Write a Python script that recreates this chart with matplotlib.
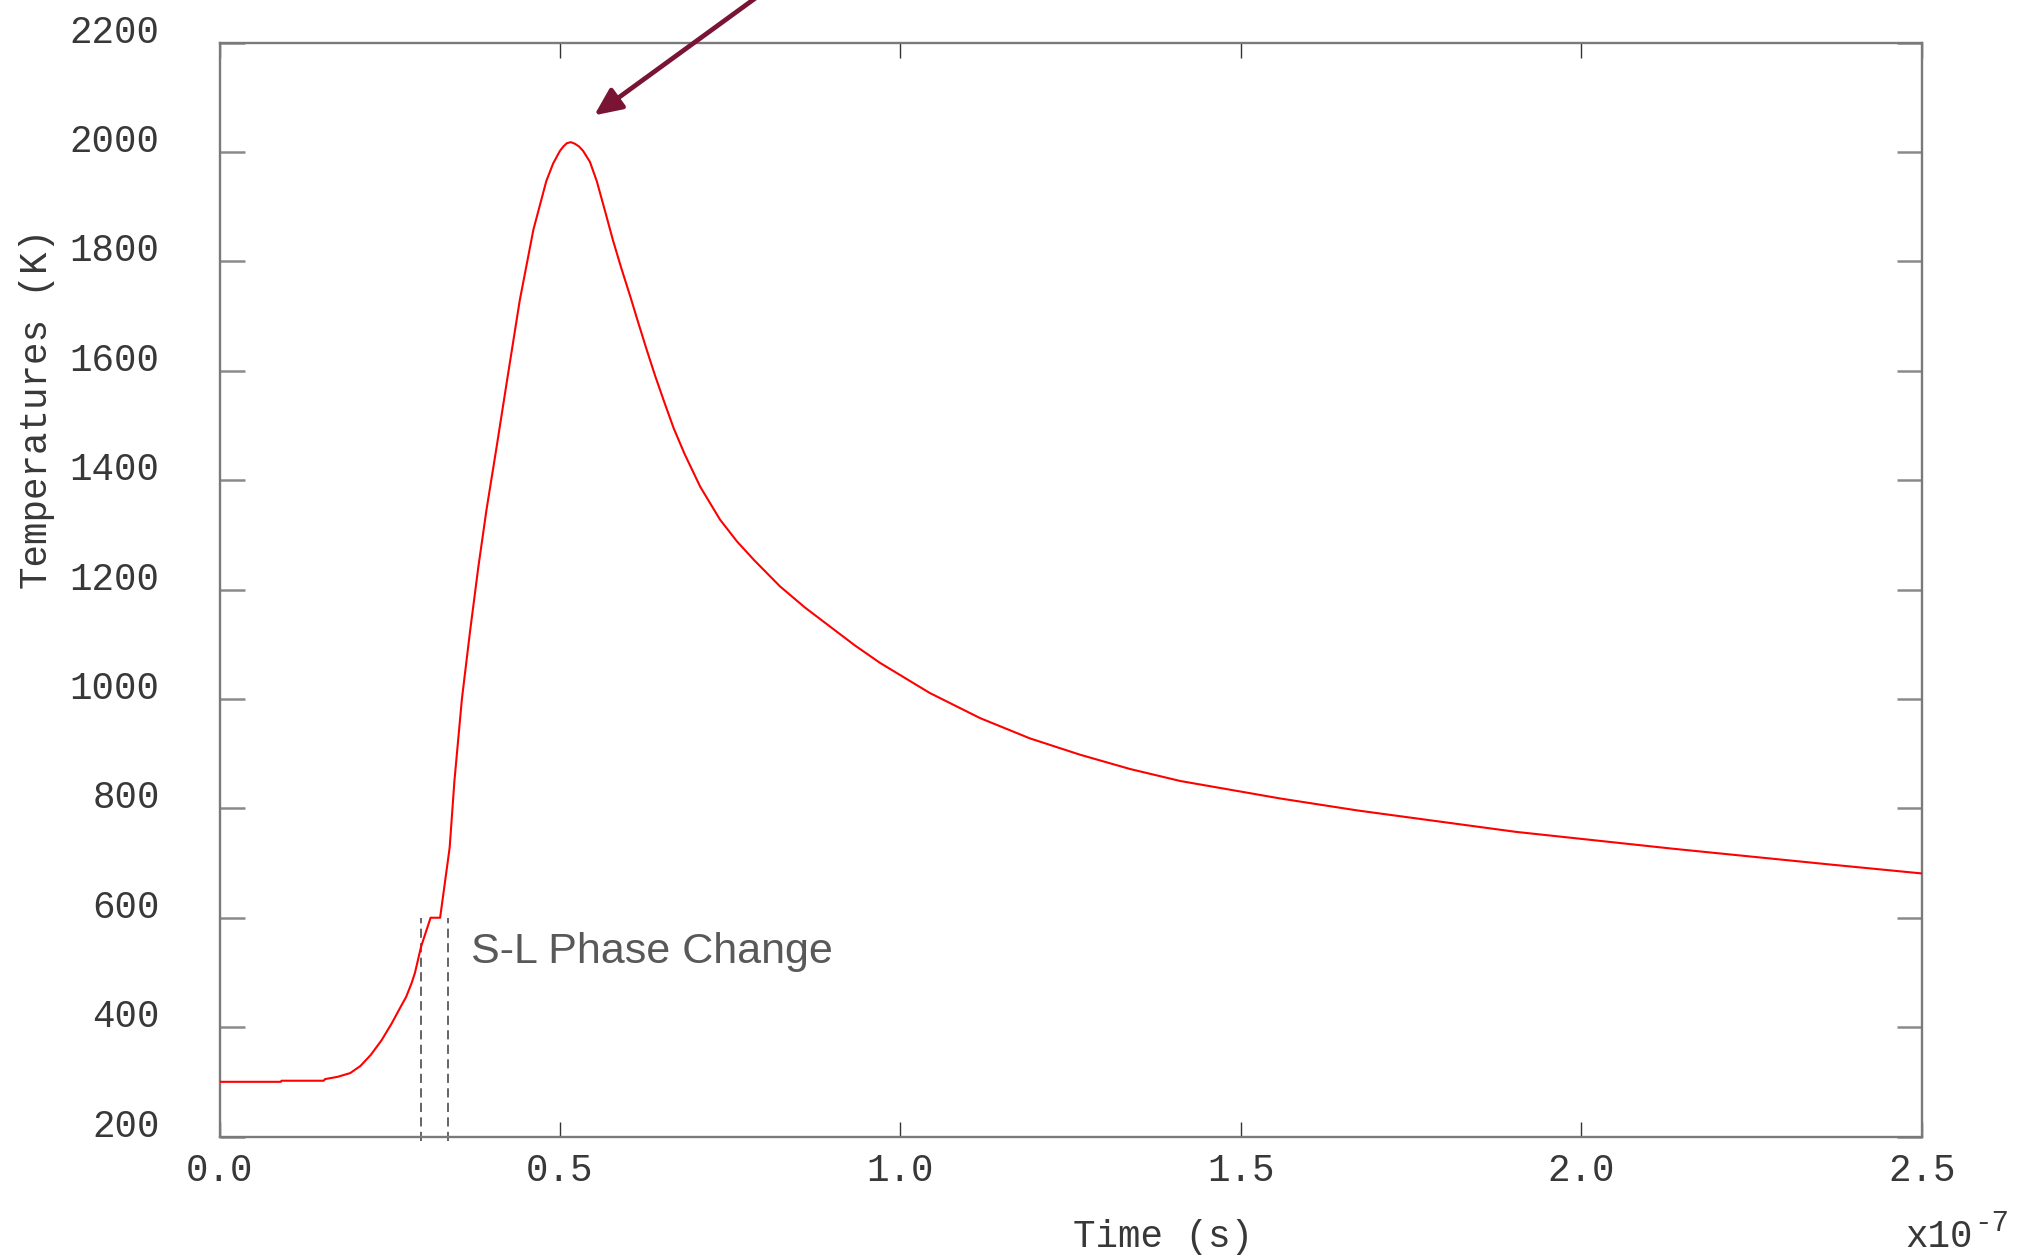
import matplotlib
matplotlib.use("Agg")
import matplotlib.pyplot as plt
from matplotlib.transforms import blended_transform_factory

# Surface temperature history (time in units of 1e-7 s, temperature in K)
time_e7 = [0.000, 0.090, 0.091, 0.153, 0.155, 0.173, 0.192, 0.207, 0.222, 0.238,
           0.253, 0.266, 0.274, 0.282, 0.287, 0.296, 0.310, 0.324, 0.338, 0.345,
           0.356, 0.368, 0.380, 0.392, 0.407, 0.422, 0.441, 0.461, 0.480, 0.490,
           0.500, 0.505, 0.510, 0.516, 0.522, 0.528, 0.534, 0.544, 0.554, 0.566,
           0.578, 0.590, 0.603, 0.615, 0.627, 0.640, 0.654, 0.667, 0.683, 0.706,
           0.735, 0.760, 0.785, 0.823, 0.860, 0.897, 0.933, 0.970, 1.043, 1.117,
           1.190, 1.264, 1.337, 1.411, 1.558, 1.672, 1.904, 2.136, 2.368, 2.500]
temperature = [300, 300, 302, 302, 305, 309, 316, 329, 349, 376,
               407, 437, 455, 480, 499, 547, 600, 600, 728, 850,
               1000, 1124, 1240, 1345, 1461, 1580, 1729, 1858, 1947, 1979,
               2002, 2010, 2016, 2018, 2015, 2010, 2002, 1982, 1947, 1893,
               1838, 1788, 1737, 1688, 1640, 1590, 1540, 1495, 1448, 1388,
               1328, 1288, 1254, 1206, 1167, 1132, 1098, 1066, 1011, 965,
               928, 898, 872, 850, 818, 796, 757, 726, 697, 681]

# Solid-liquid phase change window
phase_bounds = [0.296, 0.3355]
phase_span_T = [192, 600]

# Peak marker arrow (tip, tail) in data units
arrow_tip = (0.5504, 2067)
arrow_tail = (0.853, 2341)

x_ticks = [0.0, 0.5, 1.0, 1.5, 2.0, 2.5]
y_ticks = [200, 400, 600, 800, 1000, 1200, 1400, 1600, 1800, 2000, 2200]

MONO = "Liberation Mono"
SANS = "Liberation Sans"
TXT = "#383838"

fig = plt.figure(figsize=(20.25, 12.6), dpi=100)
ax = fig.add_axes([0.1084, 0.098, 0.9490 - 0.1084, 0.9662 - 0.098])

ax.plot(time_e7, temperature, color="#ff0000", lw=1.5, zorder=3,
        solid_joinstyle="round")

for xb in phase_bounds:
    ax.plot([xb, xb], phase_span_T, color="#3a3a3a", lw=1.1,
            dashes=(6, 3.5), clip_on=False, zorder=2)

ax.text(0.369, 518, "S-L Phase Change", family=SANS, fontsize=31,
        color="#595959", ha="left", va="baseline")

ax.annotate("", xy=arrow_tip, xytext=arrow_tail, xycoords="data",
            textcoords="data", annotation_clip=False,
            arrowprops=dict(arrowstyle="-|>,head_length=0.55,head_width=0.25",
                            mutation_scale=30, lw=3.4, color="#7a1434",
                            shrinkA=0, shrinkB=0))

ax.set_xlim(0, 2.5)
ax.set_ylim(200, 2200)

ax.set_xticks(x_ticks)
ax.set_xticklabels([f"{v:.1f}" for v in x_ticks])
ax.set_yticks(y_ticks)
ax.set_yticklabels([str(v) for v in y_ticks])

for s in ax.spines.values():
    s.set_color("#7a7a7a")
    s.set_linewidth(1.7)

ax.tick_params(axis="x", which="major", direction="in", top=True, bottom=True,
               length=11, width=1.0, color="#333333", pad=12,
               labelsize=27, labelcolor=TXT)
ax.tick_params(axis="y", which="major", direction="in", left=True, right=True,
               length=18, width=1.8, color="#8a8a8a", pad=43,
               labelsize=27, labelcolor=TXT)
for lab in ax.get_xticklabels() + ax.get_yticklabels():
    lab.set_family(MONO)
for lab in ax.get_yticklabels():
    lab.set_verticalalignment("baseline")

ax.set_ylabel("Temperatures (K)", family=MONO, fontsize=27, color=TXT)
ax.yaxis.set_label_coords(-0.0967, 0.665)

xt = blended_transform_factory(ax.transData, ax.transAxes)
ax.text(1.386, -0.1007, "Time (s)", transform=xt, family=MONO, fontsize=27,
        color=TXT, ha="center", va="baseline")
ax.text(0.9902, -0.1007, "x10", transform=ax.transAxes, family=MONO,
        fontsize=27, color=TXT, ha="left", va="baseline")
ax.text(1.0308, -0.0867, "-7", transform=ax.transAxes, family=MONO,
        fontsize=21, color=TXT, ha="left", va="baseline")

fig.savefig("out.png", dpi=100, facecolor="white")
